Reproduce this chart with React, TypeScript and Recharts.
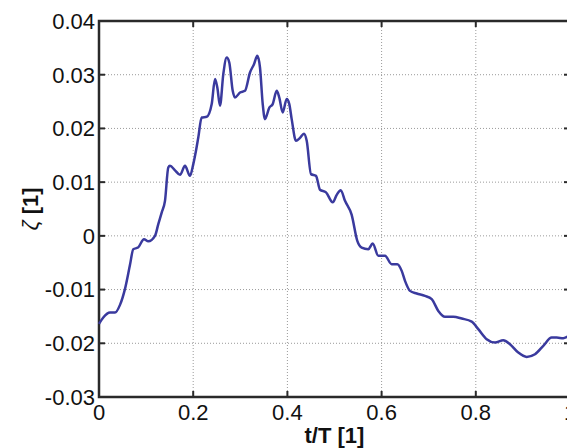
import React from 'react';
import { LineChart, Line, XAxis, YAxis, CartesianGrid, ReferenceArea } from 'recharts';

// Normalised time t/T
const tValues = [
  0.0, 0.0091, 0.0234, 0.034, 0.0446, 0.0552, 0.0658, 0.0728, 0.0828, 0.0955,
  0.1047, 0.1189, 0.1259, 0.1331, 0.1401, 0.1471, 0.1507, 0.1614, 0.172, 0.1826,
  0.1932, 0.2002, 0.2059, 0.2108, 0.218, 0.2287, 0.2393, 0.2463, 0.2512, 0.2569,
  0.2639, 0.2711, 0.2766, 0.2839, 0.2887, 0.2994, 0.31, 0.3206, 0.3291, 0.3361,
  0.3418, 0.3476, 0.3524, 0.3616, 0.3688, 0.3773, 0.3828, 0.39, 0.3985, 0.404,
  0.4091, 0.4183, 0.4268, 0.4352, 0.441, 0.4501, 0.4607, 0.4692, 0.482, 0.4962,
  0.5047, 0.5132, 0.5223, 0.5365, 0.5484, 0.5577, 0.5718, 0.5811, 0.593, 0.6072,
  0.6214, 0.6333, 0.6427, 0.6497, 0.6603, 0.6745, 0.6921, 0.7064, 0.7204, 0.7346,
  0.7522, 0.7701, 0.7913, 0.8053, 0.8231, 0.8408, 0.8584, 0.8726, 0.8902, 0.9081,
  0.9257, 0.9433, 0.9611, 0.9718, 0.9858, 1.0,
];

// Measured ζ
const zetaValues = [
  -0.01639, -0.01521, -0.01428, -0.01428, -0.01285, -0.00987, -0.0054, -0.00248, -0.00218, -0.00061,
  -0.00102, 0.0, 0.00218, 0.00434, 0.00652, 0.01272, 0.01304, 0.0122, 0.01136, 0.01304,
  0.01117, 0.01335, 0.01583, 0.01831, 0.02203, 0.02216, 0.02453, 0.02918, 0.02762, 0.02421,
  0.03011, 0.0332, 0.03227, 0.027, 0.02575, 0.02669, 0.027, 0.03041, 0.03197, 0.03352,
  0.03134, 0.02453, 0.02173, 0.02389, 0.02453, 0.027, 0.02575, 0.02296, 0.02546, 0.02453,
  0.02173, 0.01769, 0.01825, 0.01899, 0.01769, 0.01149, 0.01117, 0.00857, 0.0081, 0.00624,
  0.00764, 0.00851, 0.00652, 0.00391, -0.00093, -0.00218, -0.00248, -0.00143, -0.00372, -0.00372,
  -0.00527, -0.00527, -0.00652, -0.00838, -0.01024, -0.01074, -0.01117, -0.01179, -0.01397, -0.01508,
  -0.01508, -0.0154, -0.01596, -0.01737, -0.01924, -0.01987, -0.01942, -0.02017, -0.02173, -0.02253,
  -0.02203, -0.02048, -0.01894, -0.01894, -0.01905, -0.01844,
];

const xTicks = [0, 0.2, 0.4, 0.6, 0.8, 1];
const xTickLabels = ['0', '0.2', '0.4', '0.6', '0.8', '1'];
const yTicks = [-0.03, -0.02, -0.01, 0, 0.01, 0.02, 0.03, 0.04];
const yTickLabels = ['-0.03', '-0.02', '-0.01', '0', '0.01', '0.02', '0.03', '0.04'];
const xDomain = [0, 1];
const yDomain = [-0.03, 0.04];

const xLabel = 't/T [1]';
const yLabelSymbol = 'ζ';
const yLabelUnit = ' [1]';

const data = tValues.map((t, i) => ({ t, zeta: zetaValues[i] }));

const FONT = '"Liberation Sans", Arial, Helvetica, sans-serif';
const TICK_LEN = 6;
const FONT_SIZE = 22;
const FRAME = '#2a2a2a';
// plot box edges inside the svg, used for the mirrored tick marks on the top and right sides
const PLOT_TOP = 13;
const PLOT_RIGHT = 562;

const labelFor = (values: number[], labels: string[], v: number) => {
  const i = values.findIndex((u) => Math.abs(u - v) < 1e-9);
  return i >= 0 ? labels[i] : String(v);
};

// bottom tick: inward mark at the bottom edge, mirrored mark at the top edge, label below
const BottomTick = (props: any) => {
  const { x, y, payload } = props;
  return (
    <g>
      <line x1={x} y1={y} x2={x} y2={y - TICK_LEN} stroke={FRAME} strokeWidth={2} />
      <line x1={x} y1={PLOT_TOP} x2={x} y2={PLOT_TOP + TICK_LEN} stroke={FRAME} strokeWidth={2} />
      <text x={x} y={y + 23} textAnchor="middle" fontSize={FONT_SIZE} fontFamily={FONT} fill="#111">
        {labelFor(xTicks, xTickLabels, payload.value)}
      </text>
    </g>
  );
};

// left tick: inward mark at the left edge, mirrored mark at the right edge, label to the left
const LeftTick = (props: any) => {
  const { x, y, payload } = props;
  return (
    <g>
      <line x1={x} y1={y} x2={x + TICK_LEN} y2={y} stroke={FRAME} strokeWidth={2} />
      <line x1={PLOT_RIGHT} y1={y} x2={PLOT_RIGHT - TICK_LEN} y2={y} stroke={FRAME} strokeWidth={2} />
      <text x={x - 4} y={y} dy="0.36em" textAnchor="end" fontSize={FONT_SIZE} fontFamily={FONT} fill="#111">
        {labelFor(yTicks, yTickLabels, payload.value)}
      </text>
    </g>
  );
};

const XAxisTitle = (props: any) => {
  const { viewBox } = props;
  const cx = viewBox.x + viewBox.width / 2;
  return (
    <text x={cx} y={viewBox.y + 46} textAnchor="middle" fontSize={FONT_SIZE} fontWeight="bold" fontFamily={FONT} fill="#111">
      {xLabel}
    </text>
  );
};

const YAxisTitle = (props: any) => {
  const { viewBox } = props;
  const cx = viewBox.x + 14;
  const cy = viewBox.y + viewBox.height / 2;
  return (
    <text
      x={cx}
      y={cy}
      transform={`rotate(-90, ${cx}, ${cy})`}
      textAnchor="middle"
      dy="0.36em"
      fontSize={FONT_SIZE}
      fontFamily={FONT}
      fill="#111"
    >
      <tspan fontStyle="italic">{yLabelSymbol}</tspan>
      <tspan fontWeight="bold">{yLabelUnit}</tspan>
    </text>
  );
};

export default function App() {
  return (
    <div style={{ width: 567, height: 440 }}>
      <LineChart width={567} height={440} data={data} margin={{ top: PLOT_TOP, right: 5, bottom: 6, left: 8 }}>
        <CartesianGrid stroke="#9a9a9a" strokeDasharray="1 2" strokeWidth={1} />
        <XAxis
          dataKey="t"
          type="number"
          domain={xDomain}
          ticks={xTicks}
          interval={0}
          height={45}
          tickSize={0}
          tickMargin={0}
          tickLine={false}
          axisLine={false}
          tick={<BottomTick />}
          label={<XAxisTitle />}
        />
        <YAxis
          type="number"
          domain={yDomain}
          ticks={yTicks}
          interval={0}
          width={83}
          tickSize={0}
          tickMargin={0}
          tickLine={false}
          axisLine={false}
          tick={<LeftTick />}
          label={<YAxisTitle />}
        />
        <Line
          type="monotone"
          dataKey="zeta"
          stroke="#3a3a9e"
          strokeWidth={2.5}
          dot={false}
          isAnimationActive={false}
        />
        {/* axes box */}
        <ReferenceArea
          x1={xDomain[0]}
          x2={xDomain[1]}
          y1={yDomain[0]}
          y2={yDomain[1]}
          fill="none"
          stroke={FRAME}
          strokeWidth={2.5}
          ifOverflow="visible"
        />
      </LineChart>
    </div>
  );
}
